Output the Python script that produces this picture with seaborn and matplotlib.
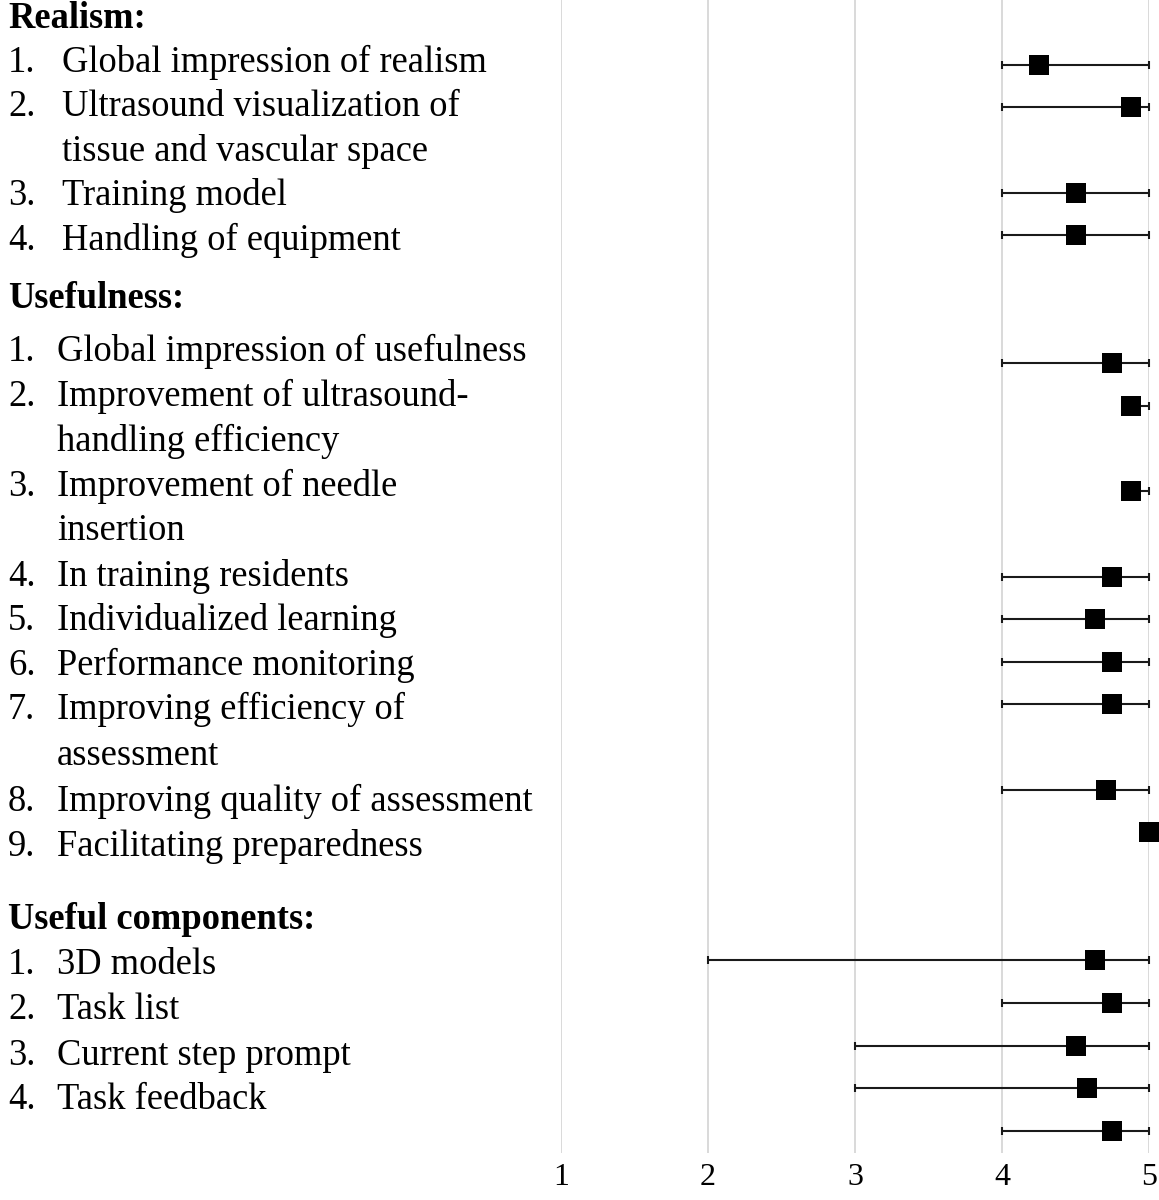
import matplotlib.pyplot as plt
import seaborn as sns
import pandas as pd

# survey items: mean score and min/max range (Likert 1-5)
row_slot = [0, 1, 3, 4, 7, 8, 10, 12, 13, 14, 15, 17, 18, 21, 22, 23, 24, 25]
means = [4.25, 4.88, 4.5, 4.5, 4.75, 4.88, 4.88, 4.75, 4.63, 4.75, 4.75, 4.71, 5.0,
         4.63, 4.75, 4.5, 4.58, 4.75]
lows = [4, 4, 4, 4, 4, 4.88, 4.88, 4, 4, 4, 4, 4, 5.0, 2, 4, 3, 3, 4]
highs = [5, 5, 5, 5, 5, 5, 5, 5, 5, 5, 5, 5, 5.0, 5, 5, 5, 5, 5]
x_ticks = [1, 2, 3, 4, 5]

# left-hand label column: (kind, number, text)
label_lines = [
    ("head", "", "Realism:"),
    ("item", "1.", "Global impression of realism"),
    ("item", "2.", "Ultrasound visualization of"),
    ("cont", "", "tissue and vascular space"),
    ("item", "3.", "Training model"),
    ("item", "4.", "Handling of equipment"),
    ("head", "", "Usefulness:"),
    ("item", "1.", "Global impression of usefulness"),
    ("item", "2.", "Improvement of ultrasound-"),
    ("cont", "", "handling efficiency"),
    ("item", "3.", "Improvement of needle"),
    ("cont", "", "insertion"),
    ("item", "4.", "In training residents"),
    ("item", "5.", "Individualized learning"),
    ("item", "6.", "Performance monitoring"),
    ("item", "7.", "Improving efficiency of"),
    ("cont", "", "assessment"),
    ("item", "8.", "Improving quality of assessment"),
    ("item", "9.", "Facilitating preparedness"),
    ("head", "", "Useful components:"),
    ("item", "1.", "3D models"),
    ("item", "2.", "Task list"),
    ("item", "3.", "Current step prompt"),
    ("item", "4.", "Task feedback"),
]
# baselines (pixels from top)
label_y = [28, 72, 116, 161, 205, 250, 308, 361, 406, 451, 496, 540, 586, 630,
           675, 719, 765, 811, 856, 929, 974, 1019, 1065, 1109]

df = pd.DataFrame({"slot": row_slot, "mean": means, "lo": lows, "hi": highs})

sns.set_style("white")
plt.rcParams['font.family'] = ['Liberation Serif', 'DejaVu Serif']
plt.rcParams['text.color'] = 'black'
plt.rcParams['xtick.color'] = 'black'

W, H = 1159, 1200
fig = plt.figure(figsize=(W / 100, H / 100), dpi=100)
ax = fig.add_axes([561 / W, 1 - 1153 / H, (1149 - 561) / W, 1153 / H])

ax.errorbar(df["mean"], df["slot"],
            xerr=[df["mean"] - df["lo"], df["hi"] - df["mean"]],
            fmt='none', ecolor='#1a1a1a', elinewidth=1.5, capsize=3,
            capthick=1.5, clip_on=False, zorder=2)
sns.scatterplot(data=df, x="mean", y="slot", marker='s', s=190, color='black',
                edgecolor='black', linewidth=0, ax=ax, zorder=3, clip_on=False)

ax.set_xlim(1, 5)
ax.set_ylim(25.52, -1.52)
ax.set_xticks(x_ticks)
ax.set_xticklabels([str(t) for t in x_ticks], fontsize=23)
ax.set_yticks([])
ax.set_xlabel("")
ax.set_ylabel("")
ax.grid(axis='x', color='#d9d9d9', linewidth=1.4)
ax.tick_params(axis='x', length=0, pad=7)
for sp in ax.spines.values():
    sp.set_visible(False)

fs = 26.3
section = 0
for (kind, num, txt), y in zip(label_lines, label_y):
    fy = 1 - y / H
    if kind == "head":
        section += 1
        fig.text(8 / W, fy, txt, fontsize=fs, fontweight='bold', va='baseline', ha='left')
        continue
    tx = 62 if section == 1 else 57
    if num:
        fig.text(8 / W, fy, num, fontsize=fs, va='baseline', ha='left')
    fig.text(tx / W, fy, txt, fontsize=fs, va='baseline', ha='left')

plt.savefig('out.png', dpi=100)
